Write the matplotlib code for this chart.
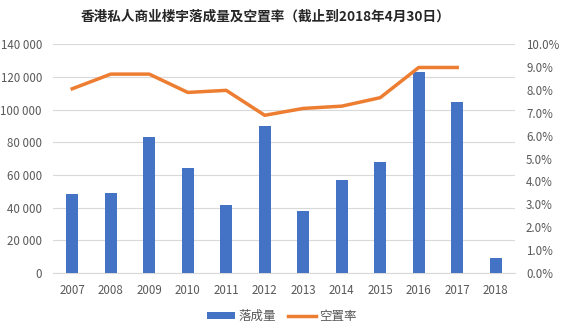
import matplotlib
matplotlib.use('Agg')
import matplotlib.pyplot as plt
from matplotlib.ticker import FuncFormatter, MultipleLocator
import numpy as np

plt.rcParams['font.family'] = ['Noto Sans CJK SC', 'DejaVu Sans']

years = ['2007', '2008', '2009', '2010', '2011', '2012', '2013', '2014', '2015', '2016', '2017', '2018']
completions = [48000, 49000, 83000, 64200, 41600, 90000, 38000, 56900, 67900, 123000, 104600, 9200]
vacancy = [8.05, 8.69, 8.69, 7.89, 7.98, 6.89, 7.19, 7.29, 7.66, 8.98, 8.98]

bar_color = '#4472C4'
line_color = '#ED7D31'
text_color = '#595959'
grid_color = '#D9D9D9'

fig = plt.figure(figsize=(5.64, 3.32), dpi=100)
ax = fig.add_axes([0.094, 0.178, 0.819, 0.689])
ax2 = ax.twinx()

x = np.arange(len(years))
ax.bar(x, completions, width=0.31, color=bar_color, label='落成量', zorder=3)
ax2.plot(x[:len(vacancy)], vacancy, color=line_color, lw=2.5, label='空置率',
         solid_joinstyle='round')

ax.set_xlim(-0.5, len(years) - 0.5)
ax.set_ylim(0, 140000)
ax.yaxis.set_major_locator(MultipleLocator(20000))
ax.yaxis.set_major_formatter(FuncFormatter(lambda v, p: f'{int(v):,}'.replace(',', ' ')))
ax2.set_ylim(0, 10)
ax2.yaxis.set_major_locator(MultipleLocator(1))
ax2.yaxis.set_major_formatter(FuncFormatter(lambda v, p: f'{v:.1f}%'))

ax.set_xticks(x)
ax.set_xticklabels(years)
ax.grid(axis='y', color=grid_color, lw=0.8, zorder=0)
for a in (ax, ax2):
    for s in a.spines.values():
        s.set_visible(False)
    a.tick_params(length=0, colors=text_color, labelsize=8.3)
ax.spines['bottom'].set_visible(True)
ax.spines['bottom'].set_color(grid_color)
ax.tick_params(axis='x', pad=8)
ax.tick_params(axis='y', pad=8)
ax2.tick_params(axis='y', pad=8)

fig.suptitle('香港私人商业楼宇落成量及空置率（截止到2018年4月30日）', x=0.47, y=0.972,
             fontsize=9.8, fontweight='bold', color='#262626')

h1, l1 = ax.get_legend_handles_labels()
h2, l2 = ax2.get_legend_handles_labels()
fig.legend(h1 + h2, l1 + l2, loc='center', bbox_to_anchor=(0.5, 0.048), ncol=2,
           frameon=False, fontsize=9, labelcolor=text_color, handlelength=2.2,
           handleheight=0.5, columnspacing=1.0, handletextpad=0.3)

fig.savefig('out.png', dpi=100)
